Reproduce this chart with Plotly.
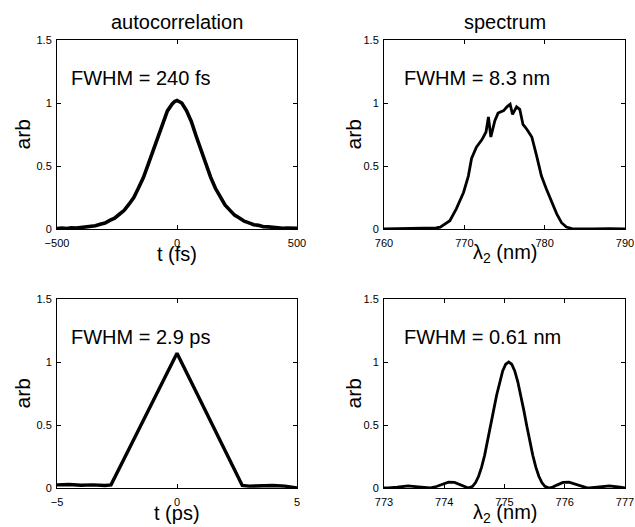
import plotly.graph_objects as go

# ---- data ----
ac_fs_t = [-500, -480, -460, -440, -420, -400, -380, -360, -340, -320, -300, -280, -260, -240,
           -220, -200, -180, -160, -140, -120, -100, -80, -60, -40, -20, -10, 0, 10,
           20, 40, 60, 80, 100, 120, 140, 160, 180, 200, 220, 240, 260, 280, 300,
           320, 340, 360, 380, 400, 420, 440, 460, 480, 500]
ac_fs_y = [0.004, 0.008, 0.003, 0.009, 0.007, 0.012, 0.013, 0.022, 0.026, 0.038, 0.047, 0.068, 0.086, 0.117,
           0.148, 0.197, 0.250, 0.327, 0.408, 0.512, 0.618, 0.737, 0.843, 0.937, 0.993, 1.012, 1.020, 1.008,
           1.000, 0.938, 0.852, 0.736, 0.624, 0.510, 0.412, 0.323, 0.254, 0.191, 0.150, 0.110, 0.087, 0.062, 0.049,
           0.034, 0.029, 0.018, 0.017, 0.011, 0.010, 0.006, 0.007, 0.004, 0.006]

spec_wl = [760, 762, 764, 765, 766, 766.5, 767, 767.5, 768.2, 769.0, 769.9, 770.5, 770.9, 771.5,
           772.2, 772.7, 773.0, 773.3, 773.8, 774.2, 774.9, 775.3, 775.7, 776.0, 776.5, 776.9,
           777.3, 777.8, 778.4, 779.0, 779.6, 780.2, 780.9, 781.5, 782.1, 782.7, 783.4, 784, 786, 788, 790]
spec_y = [0.0, 0.002, 0.0, 0.003, 0.004, 0.008, 0.015, 0.035, 0.066, 0.16, 0.29, 0.42, 0.56, 0.65,
          0.71, 0.77, 0.89, 0.73, 0.86, 0.92, 0.94, 0.97, 0.99, 0.91, 0.97, 0.95,
          0.83, 0.79, 0.73, 0.58, 0.42, 0.32, 0.21, 0.12, 0.05, 0.016, 0.003, 0.002, 0.0, 0.002, 0.0]

ac_ps_t = [-5, -4.5, -4, -3.5, -3, -2.75, -2, -1, 0, 1, 2, 2.72, 3, 3.5, 4, 4.5, 4.8, 5]
ac_ps_y = [0.025, 0.028, 0.022, 0.025, 0.020, 0.025, 0.31, 0.69, 1.07, 0.685, 0.30, 0.02, 0.015, 0.02, 0.02, 0.015, 0.005, 0.0]

nar_wl = [773.0, 773.07, 773.22, 773.40, 773.57, 773.73, 773.77, 773.87, 773.97, 774.07, 774.17, 774.27,
          774.34, 774.40, 774.47, 774.52, 774.57, 774.62, 774.67, 774.72, 774.77, 774.82, 774.87, 774.92,
          774.97, 775.02, 775.07, 775.12, 775.17, 775.22, 775.27, 775.32, 775.37, 775.42, 775.47, 775.52,
          775.57, 775.62, 775.67, 775.74, 775.80, 775.87, 775.97, 776.07, 776.17, 776.27, 776.37, 776.41,
          776.57, 776.74, 776.92, 777.0]
nar_y = [0.001, 0.0, 0.006, 0.016, 0.009, 0.0, 0.001, 0.012, 0.031, 0.046, 0.044, 0.023,
         0.007, 0.0, 0.013, 0.043, 0.093, 0.165, 0.259, 0.370, 0.492, 0.618, 0.738, 0.845,
         0.929, 0.982, 1.0, 0.982, 0.929, 0.845, 0.738, 0.618, 0.492, 0.370, 0.259, 0.165,
         0.093, 0.043, 0.013, 0.0, 0.007, 0.023, 0.044, 0.046, 0.031, 0.012, 0.001, 0.0,
         0.009, 0.016, 0.006, 0.001]

titles = ["autocorrelation", "spectrum"]
fwhm_texts = ["FWHM = 240 fs", "FWHM = 8.3 nm", "FWHM = 2.9 ps", "FWHM = 0.61 nm"]
xlabels = ["t (fs)", "λ<sub>2</sub> (nm)", "t (ps)", "λ<sub>2</sub> (nm)"]
xranges = [[-500, 500], [760, 790], [-5, 5], [773, 777]]
xdticks = [500, 10, 5, 1]
yticks = [0, 0.5, 1, 1.5]
ytick_labels = ["0", "0.5", "1", "1.5"]

# ---- layout geometry ----
W, H = 635, 527
xdom = [[57 / W, 297 / W], [384 / W, 625 / W]]
ydom = [[1 - 229 / H, 1 - 40 / H], [1 - 488 / H, 1 - 299 / H]]
xtitle_y = [254, 513]
ytitle_x = [22, 353]
FONT = "Liberation Sans, Arial, Helvetica, sans-serif"

fig = go.Figure()
series = [(ac_fs_t, ac_fs_y, 3.6), (spec_wl, spec_y, 2.8), (ac_ps_t, ac_ps_y, 3.4), (nar_wl, nar_y, 2.8)]
for i, (xs, ys, lw) in enumerate(series):
    sfx = "" if i == 0 else str(i + 1)
    fig.add_trace(go.Scatter(x=xs, y=ys, mode="lines", line=dict(color="black", width=lw),
                             xaxis="x" + sfx, yaxis="y" + sfx, showlegend=False, hoverinfo="skip"))

axis_common = dict(showline=True, linecolor="black", linewidth=1, mirror="ticks",
                   ticks="inside", ticklen=4, tickcolor="black", showgrid=False, zeroline=False,
                   automargin=False, fixedrange=True,
                   tickfont=dict(family=FONT, size=11, color="black"))

layout = dict(width=W, height=H, margin=dict(l=0, r=0, t=0, b=0, pad=0), template="none",
              paper_bgcolor="white", plot_bgcolor="white", showlegend=False)
annotations = []
for i in range(4):
    row, col = divmod(i, 2)
    sfx = "" if i == 0 else str(i + 1)
    layout["xaxis" + sfx] = dict(axis_common, domain=xdom[col], range=xranges[i],
                                 tickmode="linear", tick0=xranges[i][0], dtick=xdticks[i],
                                 anchor="y" + sfx, ticklabelstandoff=4)
    layout["yaxis" + sfx] = dict(axis_common, domain=ydom[row], range=[0, 1.5],
                                 tickmode="array", tickvals=yticks, ticktext=ytick_labels,
                                 anchor="x" + sfx, ticklabelstandoff=2)
    annotations.append(dict(text=xlabels[i], xref="paper", yref="paper",
                            x=(xdom[col][0] + xdom[col][1]) / 2, y=1 - xtitle_y[row] / H,
                            xanchor="center", yanchor="middle", showarrow=False,
                            font=dict(family=FONT, size=20, color="black")))
    annotations.append(dict(text="arb", xref="paper", yref="paper", textangle=-90,
                            x=ytitle_x[col] / W, y=(ydom[row][0] + ydom[row][1]) / 2,
                            xanchor="center", yanchor="middle", showarrow=False,
                            font=dict(family=FONT, size=21, color="black")))
    annotations.append(dict(text=fwhm_texts[i], xref=("x" + sfx) + " domain", yref="y" + sfx,
                            x=0.05 if col == 0 else 0.075, y=1.2, xanchor="left", yanchor="middle",
                            showarrow=False, font=dict(family=FONT, size=20, color="black")))
for col in range(2):
    annotations.append(dict(text=titles[col], xref="paper", yref="paper",
                            x=(xdom[col][0] + xdom[col][1]) / 2, y=1 - 22 / H,
                            xanchor="center", yanchor="middle", showarrow=False,
                            font=dict(family=FONT, size=20, color="black")))
layout["annotations"] = annotations
fig.update_layout(**layout)
fig.write_html("out.html", config={"displayModeBar": False, "staticPlot": True},
               post_script="document.body.style.margin='0';document.body.style.padding='0';")
